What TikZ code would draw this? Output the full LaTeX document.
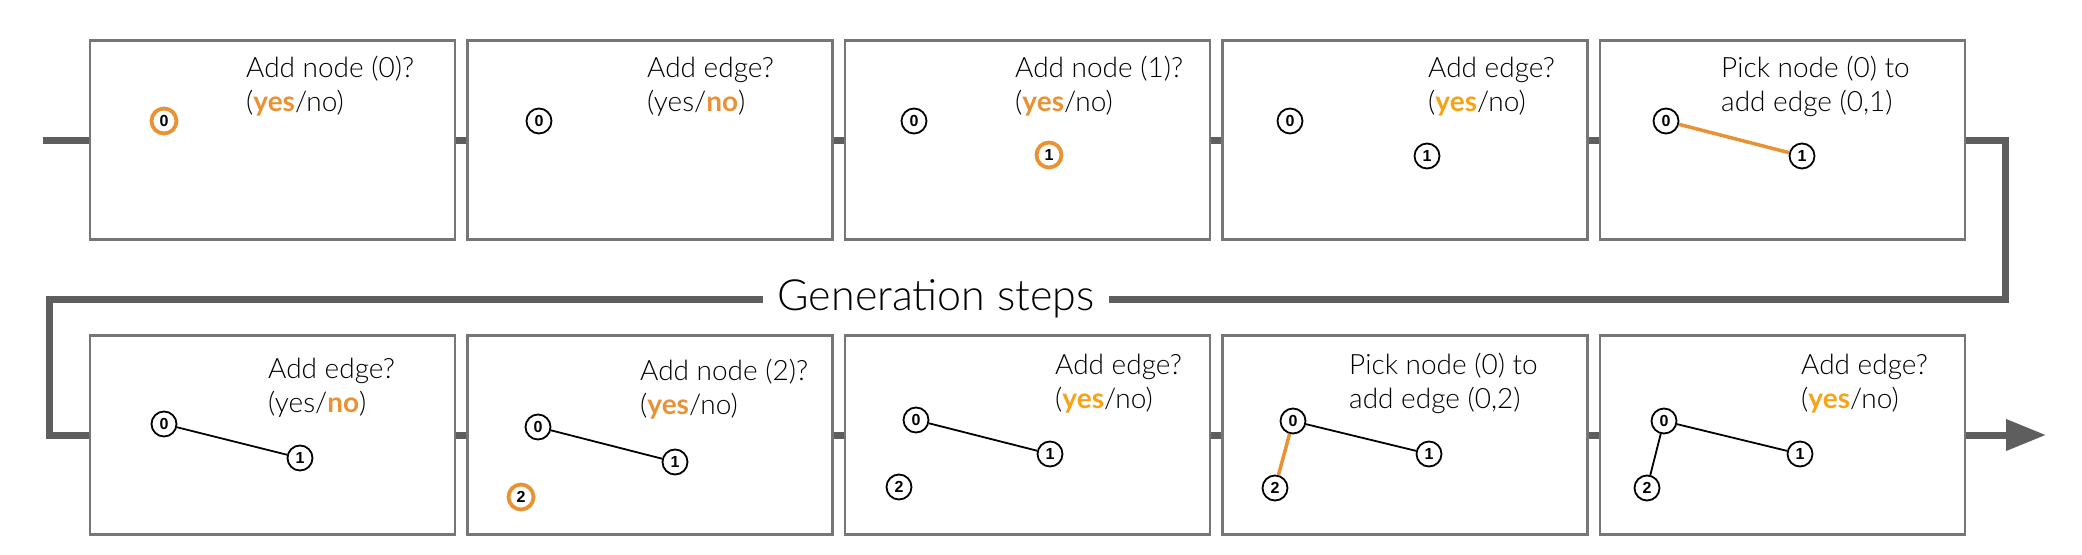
\documentclass[tikz,border=0pt]{standalone}
\usepackage{fontspec}
\setmainfont{Lato Light}[BoldFont=Lato Bold]
\newfontfamily\numfont{Liberation Sans}
\usetikzlibrary{positioning, arrows.meta, calc}
\definecolor{hot}{RGB}{232,146,52}
\definecolor{hotb}{RGB}{246,163,22}
\definecolor{flowgray}{RGB}{94,94,94}
\definecolor{boxgray}{RGB}{118,118,118}
\newcommand\yes[1][hot]{\textcolor{#1}{\textbf{yes}}}
\newcommand\no{\textcolor{hot}{\textbf{no}}}
\newcommand\asktext[3]{\node[asktext] (#1) at (#2) {#3};}
\newcommand\gn[3]{\node[gnode] (#1) at (#2) {#3};}

\begin{document}
\begin{tikzpicture}[x=1pt, y=-1pt,
  stepbox/.style={draw=boxgray, line width=2.5pt, fill=white, minimum width=365pt, minimum height=199pt, inner sep=0pt},
  flow/.style={draw=flowgray, line width=7pt},
  asktext/.style={anchor=base west, align=left, inner sep=0pt, font=\fontsize{28}{34}\selectfont},
  gnode/.style={draw, circle, line width=1.8pt, minimum size=25pt, inner sep=0pt, fill=white, font=\numfont\bfseries\fontsize{16}{16}\selectfont},
  gnew/.style={draw=hot, line width=3.8pt},
  edge/.style={line width=1.8pt},
  newedge/.style={draw=hot, line width=3.5pt}]
\useasboundingbox (0,0) rectangle (2082,554);

% top row
\node[stepbox] (t1) at (272.5,140) {};
\node[stepbox, right=10pt of t1] (t2) {};
\node[stepbox, right=10pt of t2] (t3) {};
\node[stepbox, right=10pt of t3] (t4) {};
\node[stepbox, right=10pt of t4] (t5) {};
% bottom row
\node[stepbox] (b1) at (272.5,435) {};
\node[stepbox, right=10pt of b1] (b2) {};
\node[stepbox, right=10pt of b2] (b3) {};
\node[stepbox, right=10pt of b3] (b4) {};
\node[stepbox, right=10pt of b4] (b5) {};

% flow line
\coordinate (in) at (43,140);
\coordinate (rt) at (2005,299);
\coordinate (lt) at (49,299);
\coordinate (out) at (2046,435);
\node[font=\fontsize{43}{43}\selectfont, inner xsep=14pt] (gen) at (936,299) {Generation steps};
\draw[flow] (in) -- (t1.west);
\foreach \a/\b in {t1/t2, t2/t3, t3/t4, t4/t5, b1/b2, b2/b3, b3/b4, b4/b5}
  \draw[flow] (\a.east) -- (\b.west);
\draw[flow] (t5.east) -| (rt) -- (gen.east);
\draw[flow] (gen.west) -- (lt) |- (b1.west);
\draw[flow, -{Triangle[length=40pt, width=30pt]}] (b5.east) -- (out);

% questions (anchored on the second line)
\asktext{q1}{246,111}{Add node (0)?\\(\yes/no)}
\asktext{q2}{647,111}{Add edge?\\(yes/\no)}
\asktext{q3}{1015,111}{Add node (1)?\\(\yes/no)}
\asktext{q4}{1428,111}{Add edge?\\(\yes[hotb]/no)}
\asktext{q5}{1721,111}{Pick node (0) to\\add edge (0,1)}
\asktext{q6}{268,412}{Add edge?\\(yes/\no)}
\asktext{q7}{640,414}{Add node (2)?\\(\yes/no)}
\asktext{q8}{1055,408}{Add edge?\\(\yes[hotb]/no)}
\asktext{q9}{1349,408}{Pick node (0) to\\add edge (0,2)}
\asktext{q10}{1801,408}{Add edge?\\(\yes[hotb]/no)}

% graphs, top row
\node[gnode, gnew] (t1a) at (164,121) {0};
\gn{t2a}{539,121}{0}
\gn{t3a}{914,121}{0}
\node[gnode, gnew] (t3b) at (1049,155) {1};
\gn{t4a}{1290,121}{0}
\gn{t4b}{1427,156}{1}
\gn{t5a}{1666,121}{0}
\gn{t5b}{1802,156}{1}
\draw[newedge] (t5a) -- (t5b);

% graphs, bottom row
\gn{b1a}{164,424}{0}
\gn{b1b}{300,458}{1}
\draw[edge] (b1a) -- (b1b);
\gn{b2a}{538,427}{0}
\gn{b2b}{675,462}{1}
\node[gnode, gnew] (b2c) at (521,497) {2};
\draw[edge] (b2a) -- (b2b);
\gn{b3a}{916,420}{0}
\gn{b3b}{1050,454}{1}
\gn{b3c}{899,487}{2}
\draw[edge] (b3a) -- (b3b);
\gn{b4a}{1293,421}{0}
\gn{b4b}{1429,454}{1}
\gn{b4c}{1275,488}{2}
\draw[edge] (b4a) -- (b4b);
\draw[newedge] (b4a) -- (b4c);
\gn{b5a}{1664,421}{0}
\gn{b5b}{1800,454}{1}
\gn{b5c}{1647,488}{2}
\draw[edge] (b5a) -- (b5b);
\draw[edge] (b5a) -- (b5c);

\end{tikzpicture}
\end{document}
